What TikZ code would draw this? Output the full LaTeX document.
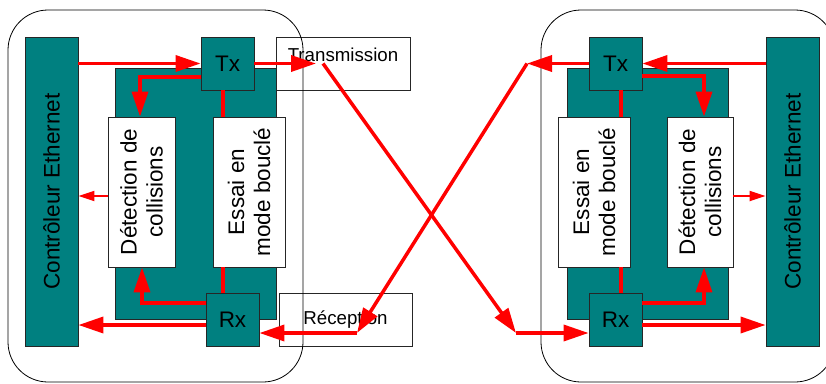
\documentclass[tikz,border=0pt]{standalone}
\usepackage{fontspec}
\setmainfont{Liberation Sans}
\usetikzlibrary{arrows.meta}
\definecolor{blockteal}{RGB}{0,128,128}
\definecolor{sigred}{RGB}{255,0,0}
\tikzset{
  bigfont/.style={font=\fontsize{22.5}{26}\selectfont},
  smallfont/.style={font=\fontsize{18.7}{22}\selectfont},
  tealbox/.style={draw=black!85, line width=0.8pt, fill=blockteal, inner sep=0pt},
  whitebox/.style={draw=black!85, line width=0.8pt, fill=white, inner sep=0pt},
  frame/.style={draw=black, line width=0.8pt, rounded corners=40pt},
  vtext/.style={bigfont, rotate=90, align=center, inner sep=0pt},
  sigline/.style={draw=sigred, line width=3.5pt},
  sigarrow/.style={sigline, -{Triangle[length=25pt,width=16pt]}},
  sigsmall/.style={draw=sigred, line width=2pt, -{Triangle[length=16pt,width=10pt]}},
}
\begin{document}
\begin{tikzpicture}[x=1pt,y=-1pt]
\useasboundingbox (0,0) rectangle (826,383);
\clip (0,0) rectangle (826,383);

% ---------- left station ----------
\node[tealbox, minimum width=53, minimum height=309] (ctrlL) at (51.5,191.5) {};
\node[vtext] (ctrlLtxt) at (ctrlL.center) {Contrôleur Ethernet};
\node[tealbox, minimum width=161, minimum height=251] (blockL) at (195.5,193.5) {};
\node[tealbox, bigfont, minimum width=53, minimum height=53] (txL) at (227.5,63.5) {Tx};
\node[tealbox, bigfont, minimum width=53, minimum height=53] (rxL) at (232.5,319.5) {Rx};
\node[whitebox, minimum width=67, minimum height=150] (detL) at (141.5,192) {};
\node[vtext] (detLtxt) at (detL.center) {Détection de\\collisions};
\node[whitebox, minimum width=72, minimum height=150] (essL) at (249,192) {};
\node[vtext] (essLtxt) at (essL.center) {Essai en\\mode bouclé};
\node[whitebox, minimum width=134, minimum height=53] (trans) at (343,63.5) {};
\node[smallfont, anchor=base, inner sep=0pt] (transtxt) at (343,61) {Transmission};
\node[whitebox, smallfont, minimum width=133, minimum height=53] (recep) at (345.5,319.5) {Réception};

% ---------- right station ----------
\node[tealbox, minimum width=53, minimum height=309] (ctrlR) at (792.5,191.5) {};
\node[vtext] (ctrlRtxt) at (ctrlR.center) {Contrôleur Ethernet};
\node[tealbox, minimum width=161, minimum height=251] (blockR) at (648,193.5) {};
\node[tealbox, bigfont, minimum width=53, minimum height=53] (txR) at (615.5,63.5) {Tx};
\node[tealbox, bigfont, minimum width=53, minimum height=53] (rxR) at (615.5,319.5) {Rx};
\node[whitebox, minimum width=72, minimum height=150] (essR) at (594,192) {};
\node[vtext] (essRtxt) at (essR.center) {Essai en\\mode bouclé};
\node[whitebox, minimum width=66, minimum height=150] (detR) at (700,192) {};
\node[vtext] (detRtxt) at (detR.center) {Détection de\\collisions};

% ---------- station outlines ----------
\draw[frame] (8,10) rectangle (303,382);
\draw[frame] (541,10) rectangle (835,382);

% ---------- crossed medium ----------
\coordinate (tTip) at (316,63.5);
\coordinate (xA) at (323,63.5);
\coordinate (xB) at (516,333);
\coordinate (xC) at (527,63.5);
\coordinate (xD) at (357,333);
\draw[sigarrow] (txL.east) -- (tTip);
\draw[sigarrow] (xA) -- (xB);
\draw[sigarrow] (xB) -- (xB -| rxR.west);
\draw[sigarrow] (txR.west) -- (xC);
\draw[sigarrow] (xC) -- (xD);
\draw[sigarrow] (xD) -- (xD -| rxL.east);

% ---------- left internal paths ----------
\coordinate (bL1) at (140,77);
\coordinate (vL) at (223,0);
\coordinate (bL2) at (142,303);
\coordinate (hL) at (0,325);
\coordinate (sL) at (0,196);
\draw[sigarrow] (ctrlL.east |- txL.west) -- (txL.west);
\draw[sigarrow] (txL.west |- bL1) -- (bL1) -- (bL1 |- detL.north);
\draw[sigline] (txL.south -| vL) -- (essL.north -| vL);
\draw[sigline] (essL.south -| vL) -- (rxL.north -| vL);
\draw[sigarrow] (rxL.west |- bL2) -- (bL2) -- (bL2 |- detL.south);
\draw[sigarrow] (rxL.west |- hL) -- (ctrlL.east |- hL);
\draw[sigsmall] (detL.west |- sL) -- (ctrlL.east |- sL);

% ---------- right internal paths ----------
\coordinate (bR1) at (704,76);
\coordinate (vR) at (621,0);
\coordinate (bR2) at (704,303);
\coordinate (hR) at (0,325);
\coordinate (sR) at (0,196);
\draw[sigarrow] (ctrlR.west |- txR.east) -- (txR.east);
\draw[sigarrow] (txR.east |- bR1) -- (bR1) -- (bR1 |- detR.north);
\draw[sigline] (txR.south -| vR) -- (essR.north -| vR);
\draw[sigline] (essR.south -| vR) -- (rxR.north -| vR);
\draw[sigarrow] (rxR.east |- bR2) -- (bR2) -- (bR2 |- detR.south);
\draw[sigarrow] (rxR.east |- hR) -- (ctrlR.west |- hR);
\draw[sigsmall] (detR.east |- sR) -- (ctrlR.west |- sR);
\end{tikzpicture}
\end{document}
